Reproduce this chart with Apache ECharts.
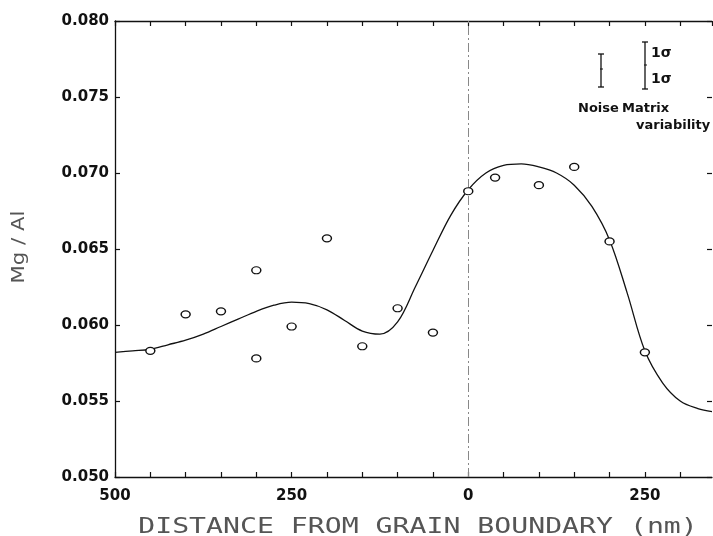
<!DOCTYPE html>
<html>
<head>
<meta charset="utf-8">
<script src="https://cdn.jsdelivr.net/npm/echarts@6/dist/echarts.min.js"></script>
<style>
  html, body { margin: 0; padding: 0; background: #fff; }
  #chart { width: 713px; height: 536px; }
</style>
</head>
<body>
<div id="chart"></div>
<script>
// measured points (distance in nm, negative = left of boundary)
const pointX = [-450, -400, -350, -300, -300, -250, -200, -150, -100, -50, 0, 38, 100, 150, 200, 250];
const pointY = [0.0583, 0.0607, 0.0609, 0.0636, 0.0578, 0.0599, 0.0657, 0.0586, 0.0611, 0.0595, 0.0688, 0.0697, 0.0692, 0.0704, 0.0655, 0.0582];

// fitted curve, every 25 nm
const curveX = [-500, -475, -450, -425, -400, -375, -350, -325, -300, -275, -250, -225, -200, -175, -150, -125, -100, -75, -50, -25, 0, 25, 50, 75, 100, 125, 150, 175, 200, 225, 250, 275, 300, 325, 345];
const curveY = [0.0582, 0.0583, 0.0584, 0.0587, 0.0590, 0.0594, 0.0599, 0.0604, 0.0609, 0.0613, 0.0615, 0.0614, 0.0610, 0.0603, 0.0596, 0.0594, 0.0602, 0.0625, 0.0649, 0.0672, 0.0689, 0.0700, 0.0705, 0.0706, 0.0704, 0.0700, 0.0692, 0.0678, 0.0656, 0.0621, 0.0583, 0.0562, 0.0550, 0.0545, 0.0543];

const xTickLabels = { '-500': '500', '-250': '250', '0': '0', '250': '250' };

const chart = echarts.init(document.getElementById('chart'));
const tickFont = { color: '#111', fontFamily: 'DejaVu Sans', fontWeight: 'bold', fontSize: 15 };

chart.setOption({
  animation: false,
  grid: { left: 115, right: 1, top: 21, bottom: 59 },
  xAxis: [{
    type: 'value', min: -500, max: 345, interval: 50,
    axisLine: { show: true, onZero: false, lineStyle: { color: '#111', width: 1.3 } },
    axisTick: { inside: true, length: 5, lineStyle: { color: '#111', width: 1.2 } },
    axisLabel: { ...tickFont, margin: 12, showMaxLabel: false,
      formatter: v => xTickLabels[String(v)] || '' },
    splitLine: { show: false }
  }, {
    type: 'value', position: 'top', min: -500, max: 345, interval: 50,
    axisLine: { show: true, onZero: false, lineStyle: { color: '#111', width: 1.3 } },
    axisTick: { inside: true, length: 5, lineStyle: { color: '#111', width: 1.2 } },
    axisLabel: { show: false }, splitLine: { show: false }
  }],
  yAxis: [{
    type: 'value', min: 0.05, max: 0.08, interval: 0.005,
    axisLine: { show: true, onZero: false, lineStyle: { color: '#111', width: 1.3 } },
    axisTick: { inside: true, length: 5, lineStyle: { color: '#111', width: 1.2 } },
    axisLabel: { ...tickFont, margin: 6, formatter: v => v.toFixed(3) },
    splitLine: { show: false }
  }, {
    type: 'value', position: 'right', min: 0.05, max: 0.08, interval: 0.005,
    axisLine: { show: false, onZero: false },
    axisTick: { inside: true, length: 5, lineStyle: { color: '#111', width: 1.2 } },
    axisLabel: { show: false }, splitLine: { show: false }
  }],
  series: [{
    type: 'line', smooth: 0.35, showSymbol: false,
    data: curveX.map((x, i) => [x, curveY[i]]),
    lineStyle: { color: '#111', width: 1.3 },
    markLine: {
      silent: true, symbol: 'none', label: { show: false },
      lineStyle: { color: '#888', width: 1, type: [9, 3, 2, 3] },
      data: [{ xAxis: 0 }]
    }
  }, {
    type: 'scatter', symbol: 'circle', symbolSize: [9, 7],
    data: pointX.map((x, i) => [x, pointY[i]]),
    itemStyle: { color: '#fff', borderColor: '#111', borderWidth: 1.3, opacity: 1 },
    z: 5
  }],
  graphic: [
    // axis names
    { type: 'text', x: 418, y: 527, scaleX: 1.28,
      style: { text: 'DISTANCE FROM GRAIN BOUNDARY (nm)', font: '22px "DejaVu Sans Mono"',
        fill: '#555', align: 'center', verticalAlign: 'middle' } },
    { type: 'text', x: 20, y: 247, rotation: Math.PI / 2, scaleX: 1.25,
      style: { text: 'Mg / Al', font: '17px "DejaVu Sans"', fill: '#555',
        align: 'center', verticalAlign: 'middle' } },
    // error-bar key
    { type: 'polyline', shape: { points: [[598, 54], [604, 54]] }, style: { stroke: '#111', lineWidth: 1.3 } },
    { type: 'polyline', shape: { points: [[601, 54], [601, 87]] }, style: { stroke: '#111', lineWidth: 1.3 } },
    { type: 'polyline', shape: { points: [[598, 87], [604, 87]] }, style: { stroke: '#111', lineWidth: 1.3 } },
    { type: 'polyline', shape: { points: [[600, 69], [603, 69]] }, style: { stroke: '#111', lineWidth: 1 } },
    { type: 'polyline', shape: { points: [[642, 42], [648, 42]] }, style: { stroke: '#111', lineWidth: 1.3 } },
    { type: 'polyline', shape: { points: [[645, 42], [645, 89]] }, style: { stroke: '#111', lineWidth: 1.3 } },
    { type: 'polyline', shape: { points: [[642, 89], [648, 89]] }, style: { stroke: '#111', lineWidth: 1.3 } },
    { type: 'polyline', shape: { points: [[644, 65], [647, 65]] }, style: { stroke: '#111', lineWidth: 1 } },
    { type: 'text', x: 651, y: 53, style: { text: '1σ', font: 'bold 14px "DejaVu Sans"', fill: '#111', verticalAlign: 'middle' } },
    { type: 'text', x: 651, y: 79, style: { text: '1σ', font: 'bold 14px "DejaVu Sans"', fill: '#111', verticalAlign: 'middle' } },
    { type: 'text', x: 578, y: 109, style: { text: 'Noise', font: 'bold 13px "DejaVu Sans"', fill: '#111', verticalAlign: 'middle' } },
    { type: 'text', x: 622, y: 109, style: { text: 'Matrix', font: 'bold 13px "DejaVu Sans"', fill: '#111', verticalAlign: 'middle' } },
    { type: 'text', x: 636, y: 126, style: { text: 'variability', font: 'bold 13px "DejaVu Sans"', fill: '#111', verticalAlign: 'middle' } }
  ]
});
</script>
</body>
</html>
